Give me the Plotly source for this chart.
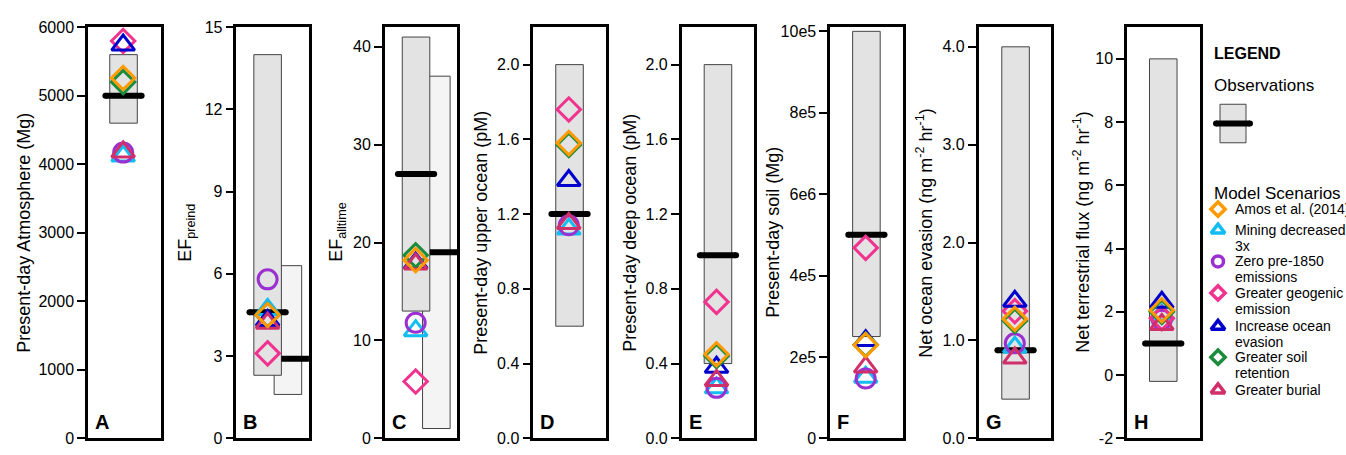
import plotly.graph_objects as go

# ---------------- data ----------------
panel_letters = ["A", "B", "C", "D", "E", "F", "G", "H"]
y_titles = [
    "Present-day Atmosphere (Mg)",
    "EF<sub>preind</sub>",
    "EF<sub>alltime</sub>",
    "Present-day upper ocean (pM)",
    "Present-day deep ocean (pM)",
    "Present-day soil (Mg)",
    "Net ocean evasion (ng m<sup>-2</sup> hr<sup>-1</sup>)",
    "Net terrestrial flux (ng m<sup>-2</sup> hr<sup>-1</sup>)",
]
y_ranges = [[0, 6000], [0, 15], [0, 42], [0, 2.2], [0, 2.2], [0, 1.01e6], [0, 4.2], [-2, 11]]
y_tickvals = [
    [0, 1000, 2000, 3000, 4000, 5000, 6000],
    [0, 3, 6, 9, 12, 15],
    [0, 10, 20, 30, 40],
    [0.0, 0.4, 0.8, 1.2, 1.6, 2.0],
    [0.0, 0.4, 0.8, 1.2, 1.6, 2.0],
    [0, 2e5, 4e5, 6e5, 8e5, 10e5],
    [0.0, 1.0, 2.0, 3.0, 4.0],
    [-2, 0, 2, 4, 6, 8, 10],
]
y_ticktext = [
    ["0", "1000", "2000", "3000", "4000", "5000", "6000"],
    ["0", "3", "6", "9", "12", "15"],
    ["0", "10", "20", "30", "40"],
    ["0.0", "0.4", "0.8", "1.2", "1.6", "2.0"],
    ["0.0", "0.4", "0.8", "1.2", "1.6", "2.0"],
    ["0", "2e5", "4e5", "6e6", "8e5", "10e5"],
    ["0.0", "1.0", "2.0", "3.0", "4.0"],
    ["-2", "0", "2", "4", "6", "8", "10"],
]

# observations (per panel A..H)
obs_low = [4600, 2.3, 13, 0.6, 0.4, 2.5e5, 0.4, -0.2]
obs_high = [5600, 14, 41, 2.0, 2.0, 1.0e6, 4.0, 10]
obs_median = [5000, 4.6, 27, 1.2, 0.98, 5.0e5, 0.9, 1.0]
# secondary observations (panels B and C)
obs2_panels = ["B", "C"]
obs2_low = [1.6, 1.0]
obs2_high = [6.3, 37]
obs2_median = [2.9, 19]

# model scenarios (per panel A..H)
scenario_names = [
    "Amos et al. (2014)", "Mining decreased 3x", "Zero pre-1850 emissions",
    "Greater geogenic emission", "Increase ocean evasion", "Greater soil retention",
    "Greater burial",
]
amos = [5260, 4.5, 18.2, 1.58, 0.45, 2.29e5, 1.22, 2.05]
mining = [4120, 4.7, 11.0, 1.12, 0.27, 1.50e5, 0.93, 1.90]
zero = [4170, 5.8, 11.8, 1.14, 0.27, 1.47e5, 0.97, 1.75]
geogenic = [5800, 3.1, 5.8, 1.76, 0.73, 4.68e5, 1.30, 1.80]
ocean = [5740, 4.3, 17.9, 1.38, 0.38, 2.40e5, 1.40, 2.30]
soil = [5200, 4.5, 18.7, 1.57, 0.44, 2.30e5, 1.20, 2.00]
burial = [4180, 4.2, 17.8, 1.15, 0.31, 1.75e5, 0.82, 1.60]
scenario_values = [amos, mining, zero, geogenic, ocean, soil, burial]

# ---------------- styles ----------------
FONT = "Liberation Sans, Arial, Helvetica, sans-serif"
W, H = 1346, 455
scen_colors = ["#FF9A00", "#12BDF2", "#9A30CF", "#F0338F", "#0000CC", "#1B8C3C", "#D0306A"]
scen_symbols = ["diamond-open", "triangle-up-open", "circle-open", "diamond-open",
                "triangle-up-open", "diamond-open", "triangle-up-open"]
scen_sizes = {"diamond-open": 18, "triangle-up-open": 20, "circle-open": 19}
draw_order = [1, 2, 3, 4, 5, 6, 0]

frame_left0, frame_step, frame_w = 88.0, 148.43, 72.5
frame_top, frame_bot = 20.0, 447.0
box_center = [0.49, 0.43, 0.43, 0.5, 0.5, 0.5, 0.51, 0.5]
box2_center = 0.71
marker_x = [0.485, 0.43, 0.425, 0.49, 0.48, 0.49, 0.50, 0.48]
box_w = 0.38
bar_half = 0.25
title_x_px = [24, 187, 338, 481, 630, 773, 925, 1082]

fig = go.Figure()

def ax_names(i):
    s = "" if i == 0 else str(i + 1)
    return "x" + s, "y" + s, "xaxis" + s, "yaxis" + s

layout_axes = {}
annotations = []
for i, letter in enumerate(panel_letters):
    xa, ya, xk, yk = ax_names(i)
    left = frame_left0 + i * frame_step
    layout_axes[xk] = dict(domain=[left / W, (left + frame_w) / W], range=[0, 1],
                           showline=True, mirror=True, linecolor="black", linewidth=2.5,
                           showticklabels=False, ticks="", showgrid=False, zeroline=False,
                           fixedrange=True, anchor=ya)
    layout_axes[yk] = dict(domain=[(H - frame_bot) / H, (H - frame_top) / H], range=y_ranges[i],
                           showline=True, mirror=True, linecolor="black", linewidth=2.5,
                           ticks="outside", ticklen=8, tickwidth=2, tickcolor="black",
                           tickvals=y_tickvals[i], ticktext=y_ticktext[i],
                           ticklabeloverflow="allow",
                           tickfont=dict(family=FONT, size=16, color="black"),
                           showgrid=False, zeroline=False, fixedrange=True, anchor=xa)

    # secondary observation box (drawn first, behind)
    if letter in obs2_panels:
        j = obs2_panels.index(letter)
        fig.add_trace(go.Bar(x=[box2_center], y=[obs2_high[j] - obs2_low[j]], base=[obs2_low[j]],
                             width=box_w, marker=dict(color="#F4F4F4", line=dict(color="#444", width=1)),
                             xaxis=xa, yaxis=ya, showlegend=False, hoverinfo="skip"))
    fig.add_trace(go.Bar(x=[box_center[i]], y=[obs_high[i] - obs_low[i]], base=[obs_low[i]],
                         width=box_w, marker=dict(color="#E3E3E3", line=dict(color="#444", width=1)),
                         xaxis=xa, yaxis=ya, showlegend=False, hoverinfo="skip"))
    # medians
    if letter in obs2_panels:
        j = obs2_panels.index(letter)
        fig.add_trace(go.Scatter(x=[box_center[i] + box_w / 2, box2_center + bar_half + 0.05],
                                 y=[obs2_median[j], obs2_median[j]], mode="lines",
                                 line=dict(color="black", width=6),
                                 xaxis=xa, yaxis=ya, showlegend=False, hoverinfo="skip"))
    fig.add_trace(go.Scatter(x=[box_center[i] - bar_half, box_center[i] + bar_half],
                             y=[obs_median[i], obs_median[i]], mode="lines+markers",
                             line=dict(color="black", width=6),
                             marker=dict(color="black", size=6, symbol="circle"),
                             xaxis=xa, yaxis=ya, showlegend=False, hoverinfo="skip"))
    # scenarios
    for k in draw_order:
        sym = scen_symbols[k]
        fig.add_trace(go.Scatter(x=[marker_x[i]], y=[scenario_values[k][i]], mode="markers",
                                 marker=dict(symbol=sym, size=scen_sizes[sym], color=scen_colors[k],
                                             line=dict(color=scen_colors[k], width=3)),
                                 name=scenario_names[k], xaxis=xa, yaxis=ya, showlegend=False,
                                 cliponaxis=False))
    # panel letter
    annotations.append(dict(text="<b>%s</b>" % letter, xref="paper", yref="paper",
                            x=(left + 5) / W, y=(H - frame_bot + 3) / H, xanchor="left",
                            yanchor="bottom", showarrow=False,
                            font=dict(family=FONT, size=20, color="black")))
    # y-axis title
    annotations.append(dict(text=y_titles[i], xref="paper", yref="paper",
                            x=title_x_px[i] / W, y=(H - (frame_top + frame_bot) / 2) / H,
                            xanchor="center", yanchor="middle", textangle=-90, showarrow=False,
                            font=dict(family=FONT, size=18, color="black")))

# ---------------- custom legend ----------------
lx = "x9"; ly = "y9"
layout_axes["xaxis9"] = dict(domain=[0, 1], range=[0, W], visible=False, fixedrange=True, anchor=ly)
layout_axes["yaxis9"] = dict(domain=[0, 1], range=[H, 0], visible=False, fixedrange=True, anchor=lx)

leg_text_left = 1212
annotations.append(dict(text="<b>LEGEND</b>", xref="paper", yref="paper", x=leg_text_left / W,
                        y=1 - 47.5 / H, xanchor="left", yanchor="middle", showarrow=False,
                        font=dict(family=FONT, size=16, color="black")))
annotations.append(dict(text="Observations", xref="paper", yref="paper", x=leg_text_left / W,
                        y=1 - 80 / H, xanchor="left", yanchor="middle", showarrow=False,
                        font=dict(family=FONT, size=17, color="black")))
annotations.append(dict(text="Model Scenarios", xref="paper", yref="paper", x=leg_text_left / W,
                        y=1 - 193 / H, xanchor="left", yanchor="middle", showarrow=False,
                        font=dict(family=FONT, size=17, color="black")))

# observation icon
fig.add_trace(go.Scatter(x=[1220, 1246, 1246, 1220, 1220], y=[100, 100, 140, 140, 100], mode="lines",
                         fill="toself", fillcolor="#E3E3E3", line=dict(color="#444", width=1),
                         xaxis=lx, yaxis=ly, showlegend=False, hoverinfo="skip"))
fig.add_trace(go.Scatter(x=[1216, 1250], y=[120, 120], mode="lines+markers",
                         line=dict(color="black", width=6), marker=dict(color="black", size=6),
                         xaxis=lx, yaxis=ly, showlegend=False, hoverinfo="skip"))

legend_lines = [
    ["Amos et al. (2014)"],
    ["Mining decreased", "3x"],
    ["Zero pre-1850", "emissions"],
    ["Greater geogenic", "emission"],
    ["Increase ocean", "evasion"],
    ["Greater soil", "retention"],
    ["Greater burial"],
]
legend_y = [209, 230.7, 263.3, 296, 330.7, 362.7, 396.7]
leg_sizes = {"diamond-open": 11, "triangle-up-open": 12, "circle-open": 11}
for k in range(7):
    sym = scen_symbols[k]
    fig.add_trace(go.Scatter(x=[1218], y=[legend_y[k]], mode="markers",
                             marker=dict(symbol=sym, size=leg_sizes[sym], color=scen_colors[k],
                                         line=dict(color=scen_colors[k], width=3.5)),
                             xaxis=lx, yaxis=ly, showlegend=False, hoverinfo="skip", cliponaxis=False))
    for n, line in enumerate(legend_lines[k]):
        annotations.append(dict(text=line, xref="paper", yref="paper", x=1233 / W,
                                y=1 - (legend_y[k] + 16.3 * n) / H, xanchor="left", yanchor="middle",
                                showarrow=False, font=dict(family=FONT, size=14, color="black")))

fig.update_layout(
    width=W, height=H, margin=dict(l=0, r=0, t=0, b=0),
    paper_bgcolor="white", plot_bgcolor="rgba(0,0,0,0)",
    barmode="overlay", showlegend=False, annotations=annotations,
    font=dict(family=FONT, color="black"),
    **layout_axes,
)
fig.write_html("out.html", config={"displayModeBar": False},
               post_script="document.body.style.margin='0px';document.body.style.overflow='hidden';")
